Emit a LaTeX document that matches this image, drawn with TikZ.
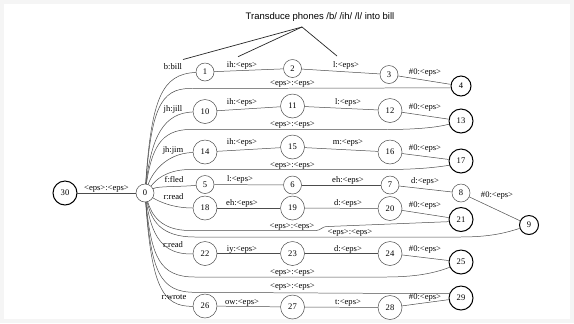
\documentclass[tikz,border=0pt]{standalone}
\usepackage{fontspec}
\setmainfont{Liberation Serif}
\newfontfamily\tsans{Liberation Sans}
\newcommand\labf{\fontsize{8.6}{9}\selectfont}
\begin{document}
\begin{tikzpicture}[x=1bp,y=-1bp,
  st/.style={circle,draw=black!70,line width=0.5pt,inner sep=0pt,minimum size=18bp,font=\labf},
  stw/.style={st,minimum size=24bp},
  fin/.style={draw=black,line width=1pt},
  lbl/.style={inner sep=0pt,font=\labf},
  ed/.style={draw=black!70,line width=0.5pt},
  ann/.style={draw=black!85,line width=0.7pt}]
\fill[black!4] (0,0) rectangle (574,323);
\fill[white] (4,4) rectangle (570,319);
\useasboundingbox (0,0) rectangle (574,323);

% states
\node[stw,fin] (n30) at (65,193) {30};
\node[st] (n0) at (145,193) {0};
\node[st] (n1) at (205,72) {1};
\node[st] (n2) at (292.5,68.5) {2};
\node[st] (n3) at (389,74.5) {3};
\node[st,fin,minimum size=20bp] (n4) at (461,86) {4};
\node[stw] (n10) at (205,111.5) {10};
\node[stw] (n11) at (292.5,106) {11};
\node[stw] (n12) at (390,110.5) {12};
\node[stw,fin] (n13) at (461,121) {13};
\node[stw] (n14) at (205,152) {14};
\node[stw] (n15) at (292.5,147) {15};
\node[stw] (n16) at (390,152) {16};
\node[stw,fin] (n17) at (461,161) {17};
\node[st] (n5) at (205,184.5) {5};
\node[st] (n6) at (292.5,185) {6};
\node[st] (n7) at (390,185) {7};
\node[st] (n8) at (461,193) {8};
\node[st,fin,minimum size=19bp] (n9) at (529,225) {9};
\node[stw] (n18) at (205,208) {18};
\node[stw] (n19) at (292.5,208) {19};
\node[stw] (n20) at (390,208.5) {20};
\node[stw,fin] (n21) at (461,219.5) {21};
\node[stw] (n22) at (205,253.5) {22};
\node[stw] (n23) at (292.5,253.5) {23};
\node[stw] (n24) at (390,253.5) {24};
\node[stw,fin] (n25) at (461,262) {25};
\node[stw] (n26) at (205,306) {26};
\node[stw] (n27) at (292.5,307) {27};
\node[stw] (n28) at (390,307.5) {28};
\node[stw,fin] (n29) at (461,298) {29};

% chain edges
\draw[ed] (n30) -- (n0);
\draw[ed] (n1) -- (n2); \draw[ed] (n2) -- (n3); \draw[ed] (n3) -- (n4);
\draw[ed] (n10) -- (n11); \draw[ed] (n11) -- (n12); \draw[ed] (n12) -- (n13);
\draw[ed] (n14) -- (n15); \draw[ed] (n15) -- (n16); \draw[ed] (n16) -- (n17);
\draw[ed] (n5) -- (n6); \draw[ed] (n6) -- (n7); \draw[ed] (n7) -- (n8); \draw[ed] (n8) -- (n9);
\draw[ed] (n18) -- (n19); \draw[ed] (n19) -- (n20); \draw[ed] (n20) -- (n21);
\draw[ed] (n22) -- (n23); \draw[ed] (n23) -- (n24); \draw[ed] (n24) -- (n25);
\draw[ed] (n26) -- (n27); \draw[ed] (n27) -- (n28); \draw[ed] (n28) -- (n29);

% edges leaving 0 upwards
\draw[ed] (n0) .. controls (151.5,98) and (162,74) .. (n1);
\draw[ed] (n0) .. controls (151.5,110) and (160,88.5) .. (190,88.5) -- (n4.190);
\draw[ed] (n0) .. controls (151.5,136) and (164,113) .. (n10);
\draw[ed] (n0) .. controls (151.5,150) and (160,129.5) .. (190,129.5) -- (385,129.5) .. controls (420,129.5) and (438,127) .. (n13.195);
\draw[ed] (n0) .. controls (151.5,175) and (164,153.5) .. (n14);
\draw[ed] (n0) .. controls (152,185) and (162,169.5) .. (190,169.5) -- (385,169.5) .. controls (420,169.5) and (438,167) .. (n17.200);
\draw[ed] (n0) .. controls (158,186) and (178,187) .. (n5);
% edges leaving 0 downwards
\draw[ed] (n0) .. controls (158,201) and (172,208) .. (n18);
\draw[ed] (n0) .. controls (151.5,214) and (160,230.5) .. (190,230.5) -- (316,230.5) .. controls (321,230.5) and (321,226.5) .. (328,226.5) -- (n21.190);
\draw[ed] (n0) .. controls (151.5,220) and (160,237) .. (195,237) -- (460,237) .. controls (490,237) and (505,233) .. (n9.200);
\draw[ed] (n0) .. controls (151.5,235) and (162,255) .. (n22);
\draw[ed] (n0) .. controls (151.5,258) and (160,277) .. (195,277) -- (385,277) .. controls (420,277) and (437,272) .. (n25.205);
\draw[ed] (n0) .. controls (151.5,272) and (160,292.3) .. (195,292.3) -- (n29.160);
\draw[ed] (n0) .. controls (151.5,285) and (162,307) .. (n26);

% labels
\node[lbl] (l300) at (106.5,189) {<eps>:<eps>};
\node[lbl] (l01) at (173,67) {b:bill};
\node[lbl] (l12) at (242,65) {ih:<eps>};
\node[lbl] (l23) at (346,65) {l:<eps>};
\node[lbl] (l34) at (425,72.5) {\#0:<eps>};
\node[lbl] (le4) at (292.5,84) {<eps>:<eps>};
\node[lbl] (l010) at (173,109) {jh:jill};
\node[lbl] (l1011) at (242,102.5) {ih:<eps>};
\node[lbl] (l1112) at (348,102.5) {l:<eps>};
\node[lbl] (l1213) at (425,107.5) {\#0:<eps>};
\node[lbl] (le13) at (292.5,125) {<eps>:<eps>};
\node[lbl] (l014) at (173,150) {jh:jim};
\node[lbl] (l1415) at (242,142.5) {ih:<eps>};
\node[lbl] (l1516) at (348,142.5) {m:<eps>};
\node[lbl] (l1617) at (425,149) {\#0:<eps>};
\node[lbl] (le17) at (292.5,165.5) {<eps>:<eps>};
\node[lbl] (l05) at (174,180) {f:fled};
\node[lbl] (l56) at (240,179.5) {l:<eps>};
\node[lbl] (l67) at (348,180) {eh:<eps>};
\node[lbl] (l78) at (425,181.5) {d:<eps>};
\node[lbl] (l89) at (497,195.5) {\#0:<eps>};
\node[lbl] (l018) at (173.5,196.5) {r:read};
\node[lbl] (l1819) at (242,203) {eh:<eps>};
\node[lbl] (l1920) at (348,203) {d:<eps>};
\node[lbl] (l2021) at (425,206) {\#0:<eps>};
\node[lbl] (le21) at (292,226.5) {<eps>:<eps>};
\node[lbl] (le9) at (350,233) {<eps>:<eps>};
\node[lbl] (l022) at (173,244.3) {r:read};
\node[lbl] (l2223) at (242,249.3) {iy:<eps>};
\node[lbl] (l2324) at (348,249.3) {d:<eps>};
\node[lbl] (l2425) at (425,250) {\#0:<eps>};
\node[lbl] (le25) at (292.5,273) {<eps>:<eps>};
\node[lbl] (le29) at (292.5,287.3) {<eps>:<eps>};
\node[lbl] (l026) at (174,297.5) {r:wrote};
\node[lbl] (l2627) at (242,303) {ow:<eps>};
\node[lbl] (l2728) at (348,303) {t:<eps>};
\node[lbl] (l2829) at (425,297.3) {\#0:<eps>};

% annotation
\node[inner sep=0pt,font=\tsans\fontsize{9.5}{11}\selectfont] (title) at (320,17) {Transduce phones /b/ /ih/ /l/ into bill};
\coordinate (apex) at (302,27);
\coordinate (a1) at (183,59.5);
\coordinate (a2) at (238,56.7);
\coordinate (a3) at (337,56);
\draw[ann] (apex) -- (a1);
\draw[ann] (apex) -- (a2);
\draw[ann] (apex) -- (a3);
\end{tikzpicture}
\end{document}
